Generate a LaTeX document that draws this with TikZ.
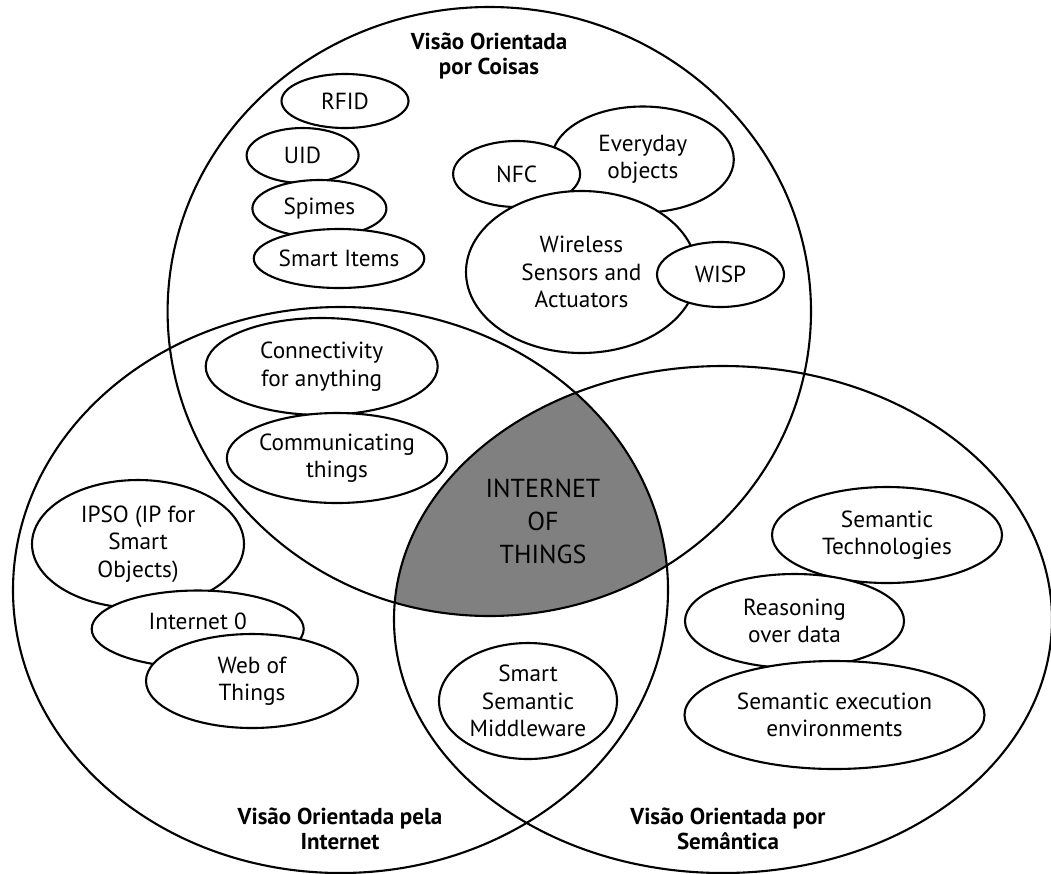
\documentclass[tikz,border=0pt]{standalone}
\usepackage{fontspec}
\setmainfont{PT Sans}
\usetikzlibrary{shapes.geometric}
\definecolor{coregray}{RGB}{128,128,128}
\begin{document}
\begin{tikzpicture}[x=1pt,y=-1pt,
  venn/.style={line width=2.1pt},
  item/.style={draw, ellipse, fill=white, line width=2.1pt, inner sep=0pt,
    align=center, font=\fontsize{23.3}{27.5}\selectfont},
  viewlabel/.style={align=center, font=\fontsize{23}{25.5}\selectfont\bfseries},
  corelabel/.style={align=center, font=\fontsize{26}{33}\selectfont},
]
\useasboundingbox (0,0) rectangle (1051,873);

% shaded region common to the three views
\begin{scope}
  \clip (489.3,311.5) ellipse [x radius=321.7, y radius=304.5];
  \clip (340.5,590) ellipse [x radius=327.5, y radius=283];
  \fill[coregray] (723,619.5) ellipse [x radius=329, y radius=253.5];
\end{scope}

% the three views
\draw[venn] (489.3,311.5) ellipse [x radius=321.7, y radius=304.5];
\draw[venn] (340.5,590) ellipse [x radius=327.5, y radius=283];
\draw[venn] (723,619.5) ellipse [x radius=329, y radius=253.5];

% view titles
\node[viewlabel] (vthings) at (489,56) {Visão Orientada\\por Coisas};
\node[viewlabel] (vinternet) at (340,829) {Visão Orientada pela\\Internet};
\node[viewlabel] (vsemantic) at (728,829) {Visão Orientada por\\Semântica};
\node[corelabel] (iot) at (543,521.7) {INTERNET\\OF\\THINGS};

% things-oriented items
\node[item, minimum width=127, minimum height=54] (rfid) at (345,101) {RFID};
\node[item, minimum width=112, minimum height=55] (uid) at (302.6,155.5) {UID};
\node[item, minimum width=134, minimum height=57] (spimes) at (319.4,208.5) {Spimes};
\node[item, minimum width=169, minimum height=59] (smartitems) at (339,258.5) {Smart Items};
\node[item, minimum width=182, minimum height=106] (everyday) at (642.8,159.5) {Everyday\\objects};
\node[item, minimum width=127, minimum height=66] (nfc) at (516.6,174) {NFC};
\node[item, minimum width=231, minimum height=162] (wsa) at (581.5,272) {Wireless\\Sensors and\\Actuators};
\node[item, minimum width=127, minimum height=65] (wisp) at (720.5,274.5) {WISP};

% things and internet
\node[item, minimum width=232, minimum height=97] (connect) at (321.7,366.5) {Connectivity\\for anything};
\node[item, minimum width=208, minimum height=90] (commun) at (337,458) {Communicating\\things};

% internet-oriented items
\node[item, minimum width=212, minimum height=128] (ipso) at (138,544) {IPSO (IP for\\Smart\\Objects)};
\node[item, minimum width=212, minimum height=77] (inet0) at (197.7,629) {};
\node (inet0text) at (197.7,621) {\fontsize{23.3}{27.5}\selectfont Internet 0};
\node[item, minimum width=212, minimum height=94] (wot) at (252,681) {Web of\\Things};

% internet and semantics
\node[item, minimum width=178, minimum height=116] (ssm) at (528,701) {Smart\\Semantic\\Middleware};

% semantic-oriented items
\node[item, minimum width=230, minimum height=96] (semtech) at (887,535) {Semantic\\Technologies};
\node[item, minimum width=219, minimum height=94] (reason) at (794.5,621) {Reasoning\\over data};
\node[item, minimum width=300, minimum height=108] (semexec) at (834.5,715) {Semantic execution\\environments};
\end{tikzpicture}
\end{document}
